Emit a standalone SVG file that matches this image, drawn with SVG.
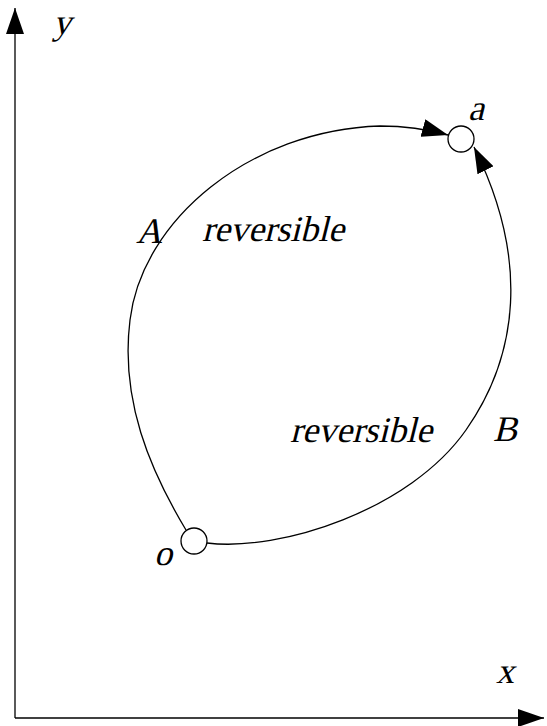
<svg xmlns="http://www.w3.org/2000/svg" width="547" height="726" viewBox="0 0 547 726">
<style>
.ln{fill:none;stroke:#000;stroke-width:1.3}
.nd{fill:#fff;stroke:#000;stroke-width:1.3}
text{font-family:'Liberation Serif','Times New Roman',serif;font-size:36px;fill:#000}
</style>
<defs>
<marker id="ah" markerUnits="userSpaceOnUse" markerWidth="28" markerHeight="18" refX="26" refY="9" orient="auto">
<path d="M0,0 L26,9 L0,18 Z" fill="#000"/>
</marker>
</defs>
<g id="connectors">
<path class="ln" d="M15,718 L15,8" marker-end="url(#ah)"/>
<path class="ln" d="M15,718 L544,718" marker-end="url(#ah)"/>
<path class="ln" d="M186,530 C150,470 120,400 130,320 C142,220 250,130 380,126 C410,126 430,130 448,135" marker-end="url(#ah)"/>
<path class="ln" d="M207,543 C280,552 410,510 466,430 C518,356 530,260 474,147" marker-end="url(#ah)"/>
</g>
<g id="node-a"><circle class="nd" cx="461" cy="139" r="13"/><text transform="translate(468,120) skewX(-14)">a</text></g>
<g id="node-o"><circle class="nd" cx="194" cy="541" r="13"/><text transform="translate(154,565) skewX(-14)">o</text></g>
<g id="labels">
<text transform="translate(53,34) skewX(-14)">y</text>
<text transform="translate(496,683) skewX(-14)">x</text>
<text transform="translate(136,243) skewX(-14)">A</text>
<text transform="translate(202,241) skewX(-14)">reversible</text>
<text transform="translate(290,442) skewX(-14)">reversible</text>
<text transform="translate(493,441) skewX(-14)">B</text>
</g>
</svg>
